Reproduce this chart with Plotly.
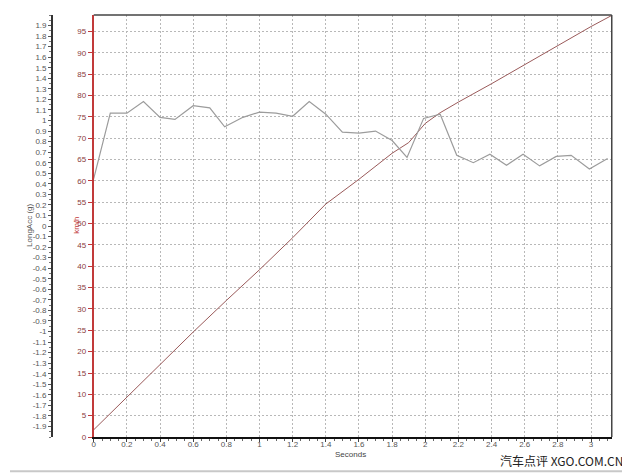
import plotly.graph_objects as go

# ---- data ----
t_acc = [0, 0.1, 0.2, 0.3, 0.4, 0.49, 0.6, 0.7, 0.79, 0.9, 1.0, 1.1, 1.2, 1.3, 1.4, 1.5,
         1.6, 1.7, 1.8, 1.89, 1.99, 2.09, 2.19, 2.29, 2.39, 2.49, 2.59, 2.69, 2.79, 2.88, 2.99, 3.1]
long_acc = [0.45, 1.07, 1.07, 1.18, 1.03, 1.01, 1.14, 1.12, 0.94, 1.03, 1.08, 1.07, 1.04, 1.18,
            1.06, 0.89, 0.88, 0.90, 0.81, 0.65, 1.02, 1.06, 0.67, 0.60, 0.68, 0.575, 0.68, 0.57,
            0.66, 0.67, 0.54, 0.64]

t_spd = [0, 0.2, 0.4, 0.6, 0.8, 1.0, 1.2, 1.4, 1.6, 1.8, 1.9, 2.0, 2.09, 2.2, 2.4, 2.6, 2.8, 3.0, 3.125]
speed = [1.7, 9.4, 16.9, 24.6, 32.0, 39.2, 46.7, 54.6, 60.4, 66.5, 69.0, 73.5, 76.0, 78.5,
         82.8, 87.3, 91.7, 96.2, 98.8]

x_ticks = [round(0.2 * i, 1) for i in range(16)]
kmh_ticks = list(range(0, 100, 5))
g_ticks = [round(-1.9 + 0.1 * i, 1) for i in range(39)]


def fmt(v):
    s = ("%.1f" % v).rstrip("0").rstrip(".")
    return "0" if s in ("-0", "0") else s


# page has an 8px body margin -> work in shifted pixel coordinates
OFF = 8
W, H = 630 - OFF, 473 - OFF


def px(x):
    return x - OFF


L, R, T, B = px(92), px(611.7), px(14.7), px(437.3)
ph = B - T


def py(y):
    return (B - px(y)) / ph


fig = go.Figure()
fig.add_trace(go.Scatter(x=t_spd, y=speed, mode="lines", line=dict(color="#9a5a5a", width=1),
                         yaxis="y", showlegend=False, hoverinfo="skip"))
fig.add_trace(go.Scatter(x=t_acc, y=long_acc, mode="lines", line=dict(color="#9c9c9c", width=1.2),
                         yaxis="y2", showlegend=False, hoverinfo="skip"))

tick_font = dict(family="Liberation Sans, Arial, sans-serif", size=8, color="#555555")
grid_dash = "2px,2px"

fig.update_layout(
    width=W, height=H,
    margin=dict(l=0, r=0, t=T, b=H - B, pad=0),
    paper_bgcolor="white", plot_bgcolor="white",
    xaxis=dict(
        domain=[L / W, R / W], range=[0, 3.125],
        tickvals=x_ticks, ticktext=[fmt(v) for v in x_ticks],
        showgrid=True, gridcolor="#b8b8b8", griddash=grid_dash, gridwidth=1,
        showline=True, linecolor="#111111", linewidth=2,
        ticks="outside", ticklen=3, tickcolor="#444444",
        ticklabelstandoff=-5,
        minor=dict(dtick=0.05, ticks="outside", ticklen=2, tickcolor="#666666", showgrid=False),
        tickfont=tick_font, zeroline=False,
    ),
    yaxis=dict(
        range=[0, 98.9], tickvals=kmh_ticks, ticktext=[str(v) for v in kmh_ticks],
        showgrid=True, gridcolor="#b8b8b8", griddash=grid_dash, gridwidth=1,
        showline=True, linecolor="#c23a3a", linewidth=2,
        ticks="outside", ticklen=4, tickcolor="#c23a3a",
        tickfont=dict(family="Liberation Sans, Arial, sans-serif", size=8, color="#8a3b3b"),
        zeroline=False,
    ),
    yaxis2=dict(
        range=[-2, 2], overlaying="y", anchor="free", position=px(50) / W, side="left",
        tickvals=g_ticks, ticktext=[fmt(v) for v in g_ticks],
        showgrid=False, zeroline=False,
        showline=True, linecolor="#333333", linewidth=1.5,
        ticks="outside", ticklen=3, tickcolor="#555555",
        minor=dict(dtick=0.05, ticks="outside", ticklen=2, tickcolor="#777777"),
        tickfont=tick_font,
    ),
    font=dict(family="Liberation Sans, Arial, sans-serif"),
)

fig.add_annotation(text="LongAcc (g)", textangle=-90, x=px(27) / W, y=py(225),
                   xref="paper", yref="paper", xanchor="center", yanchor="middle",
                   showarrow=False, font=dict(size=8, color="#555555"))
fig.add_annotation(text="km/h", textangle=-90, x=px(74) / W, y=py(225),
                   xref="paper", yref="paper", xanchor="center", yanchor="middle",
                   showarrow=False, font=dict(size=8, color="#c23a3a"))
fig.add_annotation(text="Seconds", x=px(350) / W, y=py(455),
                   xref="paper", yref="paper", xanchor="center", yanchor="middle",
                   showarrow=False, font=dict(size=8, color="#444444"))
fig.add_annotation(text="汽车点评 XGO.COM.CN", x=px(625) / W, y=py(461),
                   xref="paper", yref="paper", xanchor="right", yanchor="middle",
                   showarrow=False,
                   font=dict(family="Noto Sans CJK SC, sans-serif", size=12, color="#222222"))

# frame lines (top and right borders, outer bottom edge)
fig.add_shape(type="line", xref="paper", yref="paper", x0=L / W, x1=R / W, y0=1, y1=1,
              line=dict(color="#444444", width=1.5))
fig.add_shape(type="line", xref="paper", yref="paper", x0=R / W, x1=R / W, y0=0, y1=1,
              line=dict(color="#444444", width=1.5))
fig.add_shape(type="line", xref="paper", yref="paper", x0=0, x1=1,
              y0=py(471.5), y1=py(471.5),
              line=dict(color="#c8c8c8", width=2))

fig.write_html("out.html")
